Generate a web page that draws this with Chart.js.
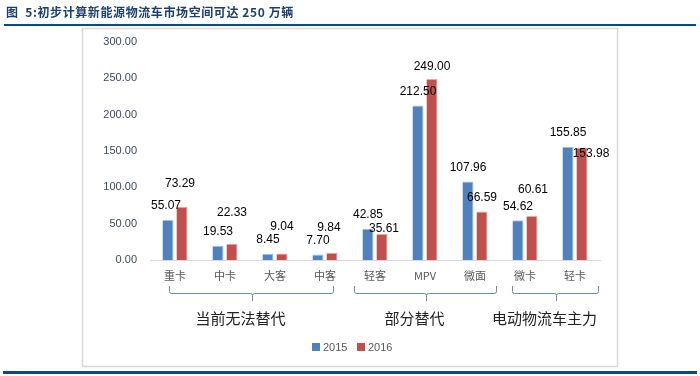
<!DOCTYPE html>
<html>
<head>
<meta charset="utf-8">
<script src="https://cdn.jsdelivr.net/npm/chart.js@4.4.1/dist/chart.umd.min.js"></script>
<style>
  html, body { margin: 0; padding: 0; background: #fff; }
  #wrap { position: relative; width: 700px; height: 376px; }
</style>
</head>
<body>
<div id="wrap"><canvas id="chart"></canvas></div>
<script>
// 数据
var categories = ["重卡", "中卡", "大客", "中客", "轻客", "MPV", "微面", "微卡", "轻卡"];
var seriesNames = ["2015", "2016"];
var values2015 = [55.07, 19.53, 8.45, 7.70, 42.85, 212.50, 107.96, 54.62, 155.85];
var values2016 = [73.29, 22.33, 9.04, 9.84, 35.61, 249.00, 66.59, 60.61, 153.98];
var groupNames = ["当前无法替代", "部分替代", "电动物流车主力"];
var groupFirst = [0, 4, 7];
var groupLast = [3, 6, 8];
var yTicks = [0, 50, 100, 150, 200, 250, 300];

var titleText = "图  5:初步计算新能源物流车市场空间可达 250 万辆";
var colors = ["#4F81BD", "#C0504D"];

// 标签微调 (Excel 的错位摆放)
var labelLift = [
    [14, 14, 14, 14, 14, 14, 14, 14, 14],
    [23, 31, 27, 25, 5, 12, 14, 26, -6]
];
var labelShift = [
    [-2, 0, 0, 0, 0, 0, 0, 0, 0],
    [-2, 0, 0, -3, 2, 0, 0, 1, 9]
];
var bracketPadL = [6, 21, 13];
var bracketPadR = [8, 21, 23];

var decor = {
    id: "decor",
    beforeDraw: function(chart) {
        var ctx = chart.ctx;
        ctx.save();
        // 标题
        ctx.fillStyle = "#1B3F6E";
        ctx.font = "bold 12px 'Noto Sans CJK SC'";
        ctx.letterSpacing = "0.6px";
        ctx.textBaseline = "middle";
        ctx.textAlign = "left";
        ctx.fillText(titleText, 6, 12);
        ctx.letterSpacing = "0px";
        // 上下深蓝线
        ctx.fillStyle = "#0D4A80";
        ctx.fillRect(4, 24, 692, 2);
        ctx.fillRect(3, 371, 694, 3);
        // 图框
        ctx.strokeStyle = "#D9D9D9";
        ctx.lineWidth = 1.5;
        ctx.strokeRect(82.5, 28.5, 535, 338);
        ctx.restore();
    },
    afterDatasetsDraw: function(chart) {
        var ctx = chart.ctx;
        var xs = chart.scales.x;
        ctx.save();
        // 数据标签
        ctx.font = "12px 'Liberation Sans'";
        ctx.fillStyle = "#000";
        ctx.textAlign = "center";
        ctx.textBaseline = "middle";
        chart.data.datasets.forEach(function(ds, di) {
            var meta = chart.getDatasetMeta(di);
            meta.data.forEach(function(bar, i) {
                ctx.fillText(ds.data[i].toFixed(2), bar.x + labelShift[di][i], bar.y - labelLift[di][i]);
            });
        });
        // 分组括号
        ctx.strokeStyle = "#6A88B8";
        ctx.lineWidth = 1;
        for (var g = 0; g < groupNames.length; g++) {
            var x1 = Math.round(xs.getPixelForValue(groupFirst[g]) - bracketPadL[g]) + 0.5;
            var x2 = Math.round(xs.getPixelForValue(groupLast[g]) + bracketPadR[g]) + 0.5;
            var mid = Math.round((x1 + x2) / 2) + 0.5;
            var yTop = 286, yH = 293.5, yTip = 301;
            ctx.beginPath();
            ctx.moveTo(x1, yTop);
            ctx.lineTo(x1, yH - 2);
            ctx.quadraticCurveTo(x1, yH, x1 + 2, yH);
            ctx.lineTo(mid - 2, yH);
            ctx.quadraticCurveTo(mid, yH, mid, yH + 2);
            ctx.lineTo(mid, yTip);
            ctx.moveTo(mid, yH + 2);
            ctx.quadraticCurveTo(mid, yH, mid + 2, yH);
            ctx.lineTo(x2 - 2, yH);
            ctx.quadraticCurveTo(x2, yH, x2, yH - 2);
            ctx.lineTo(x2, yTop);
            ctx.stroke();
            ctx.fillStyle = "#222";
            ctx.font = "15px 'Noto Sans CJK SC'";
            ctx.textAlign = "center";
            ctx.fillText(groupNames[g], mid - 12, 318);
        }
        // 图例
        ctx.font = "11px 'Liberation Sans'";
        ctx.textAlign = "left";
        var lx = 312;
        seriesNames.forEach(function(name, i) {
            ctx.fillStyle = colors[i];
            ctx.fillRect(lx, 343, 8, 8);
            ctx.fillStyle = "#595959";
            ctx.fillText(name, lx + 11, 347.5);
            lx += 45;
        });
        ctx.restore();
    }
};

var chart = new Chart(document.getElementById("chart"), {
    type: "bar",
    data: {
        labels: categories,
        datasets: [
            { label: seriesNames[0], data: values2015, backgroundColor: colors[0],
              borderColor: "#A7BFDE", borderWidth: { right: 1, top: 1 }, borderSkipped: "bottom" },
            { label: seriesNames[1], data: values2016, backgroundColor: colors[1],
              borderColor: "#E3A9A7", borderWidth: { right: 1, top: 1 }, borderSkipped: "bottom" }
        ]
    },
    options: {
        responsive: true,
        maintainAspectRatio: false,
        animation: false,
        devicePixelRatio: 1,
        layout: { padding: { top: 42, right: 100, left: 0, bottom: 0 } },
        datasets: { bar: { categoryPercentage: 0.56, barPercentage: 0.79 } },
        plugins: { legend: { display: false }, tooltip: { enabled: false } },
        scales: {
            x: {
                grid: { display: false, drawTicks: false },
                border: { color: "#D9D9D9", width: 1 },
                ticks: { color: "#595959", font: { family: "'Noto Sans CJK SC'", size: 11 }, padding: 9, maxRotation: 0 },
                afterFit: function(scale) { scale.height = 116; }
            },
            y: {
                min: 0, max: 300,
                afterBuildTicks: function(scale) { scale.ticks = yTicks.map(function(v) { return { value: v }; }); },
                grid: { display: false, drawTicks: false },
                border: { display: false },
                ticks: { color: "#3F4A5E", font: { family: "'Liberation Sans'", size: 11 }, padding: 13,
                         callback: function(v) { return Number(v).toFixed(2); } },
                afterFit: function(scale) { scale.width = 150; }
            }
        }
    },
    plugins: [decor]
});
</script>
</body>
</html>
